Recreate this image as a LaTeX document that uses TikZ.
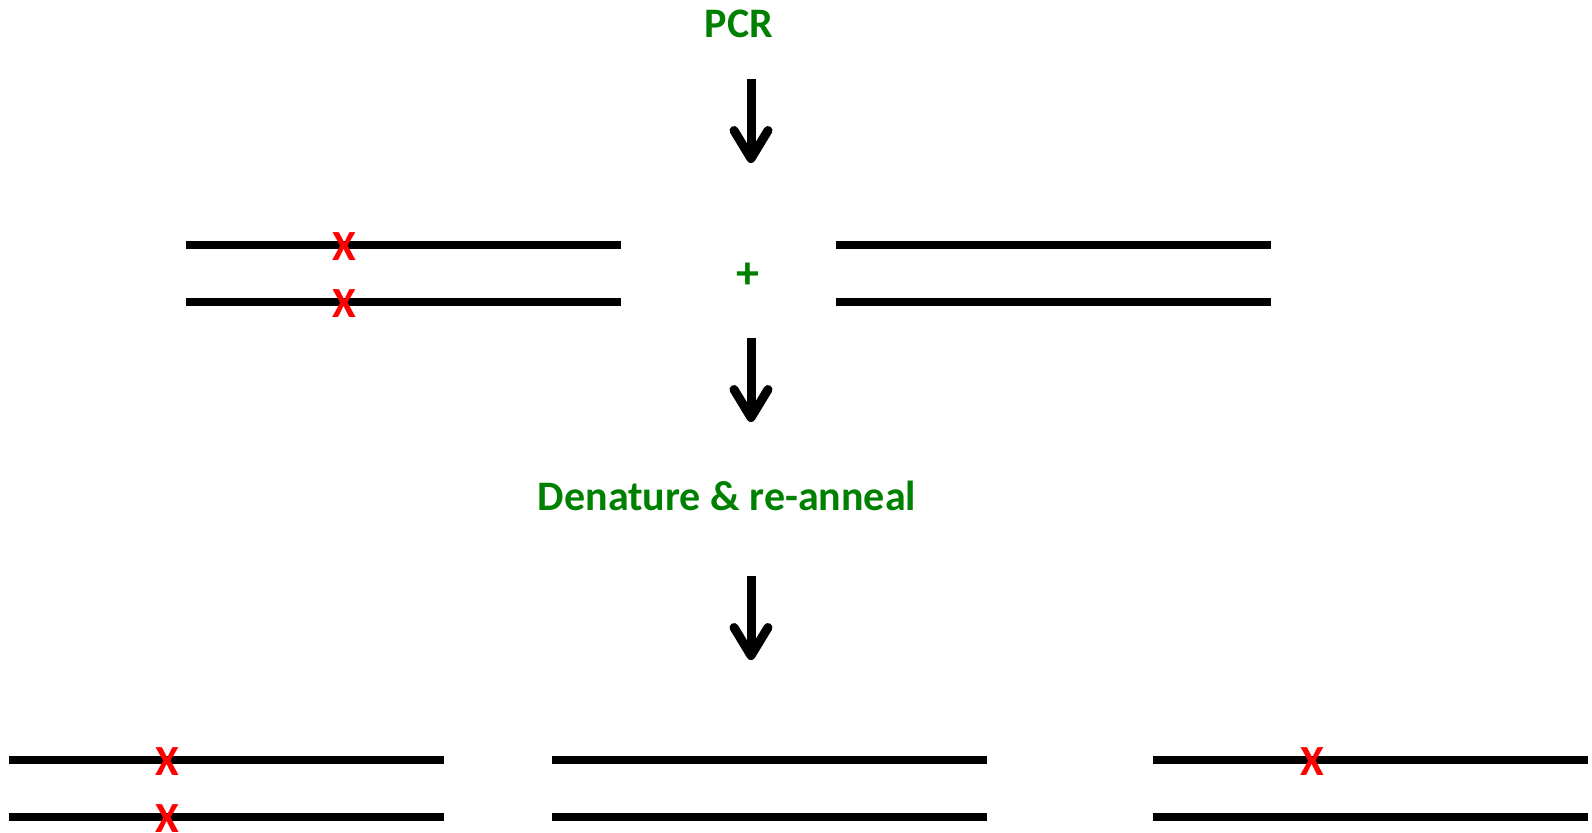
\documentclass[tikz,border=0pt]{standalone}
\usepackage{fontspec}
\setmainfont{Carlito}
\usetikzlibrary{arrows.meta}
\definecolor{pcrgreen}{RGB}{0,128,0}
\definecolor{mutred}{RGB}{255,0,0}
\begin{document}
\begin{tikzpicture}[x=0.5pt,y=-0.5pt,
  strand/.style={line width=3.8pt},
  steparrow/.style={line width=4.5pt,-{Straight Barb[length=14pt,width=17pt,round]}},
  label/.style={text=pcrgreen,font=\bfseries\fontsize{21}{24}\selectfont,inner sep=0pt},
  mut/.style={text=mutred,font=\bfseries\fontsize{21.5}{24}\selectfont,inner sep=0pt},
  plus/.style={text=pcrgreen,font=\bfseries\fontsize{23}{25}\selectfont,inner sep=0pt}]
\useasboundingbox (0,0) rectangle (1592,832);
% labels
\node[label] (pcr) at (739,24) {PCR};
\node[label] (den) at (727,496) {Denature \& re-anneal};
\node[plus] (plus) at (748,276) {+};
% arrows
\coordinate (a1s) at (751,79);  \coordinate (a1e) at (751,163);
\coordinate (a2s) at (751,338); \coordinate (a2e) at (751,422);
\coordinate (a3s) at (751,576); \coordinate (a3e) at (751,660);
\draw[steparrow] (a1s) -- (a1e);
\draw[steparrow] (a2s) -- (a2e);
\draw[steparrow] (a3s) -- (a3e);
% row 1: mutant duplex
\coordinate (m1a) at (186,245); \coordinate (m1b) at (621,245);
\coordinate (m2a) at (186,302); \coordinate (m2b) at (621,302);
\draw[strand] (m1a) -- (m1b);
\draw[strand] (m2a) -- (m2b);
\node[mut] (x1) at (344,247) {X};
\node[mut] (x2) at (344,304) {X};
% row 1: wild-type duplex
\coordinate (w1a) at (836,245); \coordinate (w1b) at (1271,245);
\coordinate (w2a) at (836,302); \coordinate (w2b) at (1271,302);
\draw[strand] (w1a) -- (w1b);
\draw[strand] (w2a) -- (w2b);
% row 2: left duplex (homo mutant)
\coordinate (l1a) at (9,760);  \coordinate (l1b) at (444,760);
\coordinate (l2a) at (9,817);  \coordinate (l2b) at (444,817);
\draw[strand] (l1a) -- (l1b);
\draw[strand] (l2a) -- (l2b);
\node[mut] (x3) at (167,762) {X};
\node[mut] (x4) at (167,819) {X};
% row 2: middle duplex (wild type)
\coordinate (c1a) at (552,760); \coordinate (c1b) at (987,760);
\coordinate (c2a) at (552,817); \coordinate (c2b) at (987,817);
\draw[strand] (c1a) -- (c1b);
\draw[strand] (c2a) -- (c2b);
% row 2: right duplex (heteroduplex)
\coordinate (r1a) at (1153,760); \coordinate (r1b) at (1588,760);
\coordinate (r2a) at (1153,817); \coordinate (r2b) at (1588,817);
\draw[strand] (r1a) -- (r1b);
\draw[strand] (r2a) -- (r2b);
\node[mut] (x5) at (1312,762) {X};
\end{tikzpicture}
\end{document}
